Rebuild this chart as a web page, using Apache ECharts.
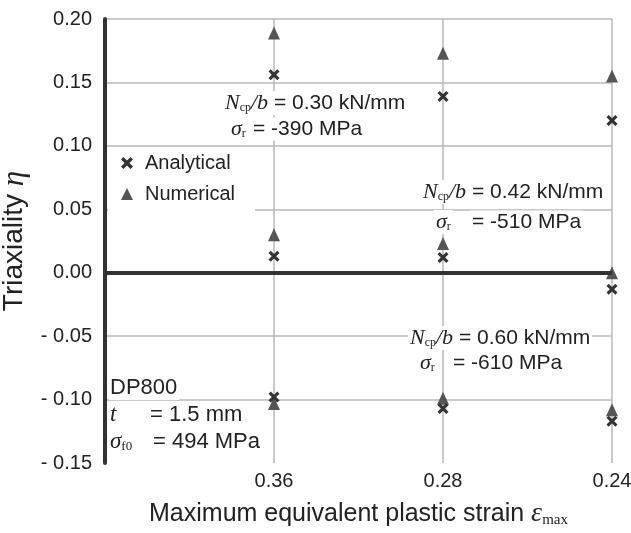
<!DOCTYPE html>
<html>
<head>
<meta charset="utf-8">
<script src="https://cdn.jsdelivr.net/npm/echarts@6/dist/echarts.min.js"></script>
<style>html,body{margin:0;padding:0;background:#fff}#c{width:631px;height:533px}</style>
</head>
<body>
<div id="c"></div>
<script>
// categories (x axis, first slot is the empty axis origin)
const categories = ['', '0.36', '0.28', '0.24'];
const strainCats = ['0.36', '0.28', '0.24'];
// Ncp/b = 0.30 kN/mm
const numerical030 = [0.189, 0.173, 0.155];
const analytical030 = [0.156, 0.139, 0.120];
// Ncp/b = 0.42 kN/mm
const numerical042 = [0.030, 0.023, 0.000];
const analytical042 = [0.013, 0.012, -0.013];
// Ncp/b = 0.60 kN/mm
const numerical060 = [-0.103, -0.099, -0.108];
const analytical060 = [-0.098, -0.107, -0.117];
// y tick values
const yTicks = [-0.15, -0.10, -0.05, 0.00, 0.05, 0.10, 0.15, 0.20];

function pairs(arrs) {
  const out = [];
  arrs.forEach(a => a.forEach((v, i) => out.push([strainCats[i], v])));
  return out;
}
const analyticalData = pairs([analytical030, analytical042, analytical060]);
const numericalData = pairs([numerical030, numerical042, numerical060]);

const XPATH = 'path://M2,0 L5,3 L8,0 L10,2 L7,5 L10,8 L8,10 L5,7 L2,10 L0,8 L3,5 L0,2 Z';
const SANS = 'Liberation Sans, Arial, sans-serif';
const SERIF = 'Liberation Serif, Times New Roman, serif';

const chart = echarts.init(document.getElementById('c'), null, {renderer: 'canvas'});

const richA = {
  it: {fontFamily: SERIF, fontStyle: 'italic', fontSize: 22, fill: '#222', color: '#222'},
  sub: {fontFamily: SERIF, fontSize: 12, verticalAlign: 'bottom', fill: '#222', color: '#222', padding: [8, 0, 0, 0]},
  n: {fontFamily: SANS, fontSize: 21, fill: '#222', color: '#222'}
};
function txt(text, x, y, size, rich, pad) {
  return {
    type: 'text', z: 1, x: x, y: y,
    style: {
      text: text, rich: rich || richA, font: size + 'px ' + SANS, fill: '#222',
      verticalAlign: 'middle', align: 'left',
      backgroundColor: '#fff', padding: pad || [1, 2, 1, 2]
    }
  };
}
const richB = Object.assign({}, richA, {
  it: Object.assign({}, richA.it, {fontSize: 23}),
  sub: Object.assign({}, richA.sub, {fontSize: 13}),
  n: Object.assign({}, richA.n, {fontSize: 22})
});

chart.setOption({
  animation: false,
  backgroundColor: '#fff',
  grid: {left: 105, right: 19, top: 19, bottom: 70, containLabel: false, outerBoundsMode: 'none'},
  xAxis: {
    type: 'category', data: categories, boundaryGap: false,
    axisLine: {show: false}, axisTick: {show: false},
    axisLabel: {fontFamily: SANS, fontSize: 20, color: '#222', margin: 8},
    splitLine: {show: true, lineStyle: {color: '#b8b8b8', width: 1.5}},
    name: 'Maximum equivalent plastic strain {it|ε}{sub|max}',
    nameLocation: 'middle', nameGap: 37,
    nameTextStyle: {
      fontFamily: SANS, fontSize: 25, color: '#222',
      rich: {
        n: {fontFamily: SANS, fontSize: 25, color: '#222'},
        it: {fontFamily: SERIF, fontStyle: 'italic', fontSize: 28, color: '#222'},
        sub: {fontFamily: SERIF, fontSize: 15, color: '#222', verticalAlign: 'bottom', padding: [8, 0, 0, 0]}
      }
    }
  },
  yAxis: {
    type: 'value', min: -0.15, max: 0.20, interval: 0.05,
    axisLine: {show: true, lineStyle: {color: '#333', width: 4}},
    axisTick: {show: false},
    axisLabel: {
      fontFamily: SANS, fontSize: 20, color: '#222', margin: 13,
      formatter: function (v) {
        const t = yTicks.reduce((a, b) => Math.abs(b - v) < Math.abs(a - v) ? b : a);
        return t < 0 ? '- ' + Math.abs(t).toFixed(2) : t.toFixed(2);
      }
    },
    splitLine: {show: true, lineStyle: {color: ['rgba(0,0,0,0)', '#b8b8b8', '#b8b8b8', '#b8b8b8', '#b8b8b8', '#b8b8b8', '#b8b8b8', '#b8b8b8'], width: 1.5}},
    name: 'Triaxiality {it|η}',
    nameLocation: 'middle', nameGap: 55, nameRotate: 90,
    nameTextStyle: {
      fontFamily: SANS, fontSize: 28, color: '#222',
      rich: {
        it: {fontFamily: SERIF, fontStyle: 'italic', fontSize: 31, color: '#222'}
      }
    }
  },
  legend: {
    orient: 'vertical', left: 108, top: 147, padding: [6, 20, 8, 13],
    backgroundColor: '#fff', itemWidth: 12, itemHeight: 12, itemGap: 11,
    textStyle: {fontFamily: SANS, fontSize: 20, color: '#222', padding: [0, 0, 0, 7], lineHeight: 20},
    data: [
      {name: 'Analytical', icon: XPATH, itemStyle: {color: '#333'}},
      {name: 'Numerical', icon: 'triangle', itemStyle: {color: '#555'}}
    ]
  },
  series: [
    {
      name: 'Analytical', type: 'scatter', data: analyticalData, z: 3,
      symbol: XPATH, symbolSize: 11, itemStyle: {color: '#333', opacity: 1},
      markLine: {
        silent: true, symbol: 'none', label: {show: false},
        lineStyle: {color: '#333', width: 4, type: 'solid'},
        data: [{yAxis: 0}]
      }
    },
    {
      name: 'Numerical', type: 'scatter', data: numericalData, z: 2,
      symbol: 'triangle', symbolSize: [12, 13], itemStyle: {color: '#555', opacity: 1}
    }
  ],
  graphic: [
    txt('{it|N}{sub|cp}{it|/b}{n| = 0.30 kN/mm}', 223, 103, 21),
    txt('{it|σ}{sub|r}', 229, 129, 21),
    txt('= -390 MPa', 251, 129, 21),
    txt('{it|N}{sub|cp}{it|/b}{n| = 0.42 kN/mm}', 421, 192, 21),
    txt('{it|σ}{sub|r}', 434, 222, 21),
    txt('= -510 MPa', 470, 222, 21),
    txt('{it|N}{sub|cp}{it|/b}{n| = 0.60 kN/mm}', 408, 338, 21),
    txt('{it|σ}{sub|r}', 418, 363, 21),
    txt('= -610 MPa', 451, 363, 21),
    txt('{n|DP800}', 109, 388, 22, richB, [1, 2, 1, 1]),
    txt('{it|t}', 109, 415, 22, richB, [1, 2, 1, 1]),
    txt('{n|= 1.5 mm}', 148, 415, 22, richB),
    txt('{it|σ}{sub|f0}', 109, 442, 22, richB, [1, 2, 1, 1]),
    txt('{n|= 494 MPa}', 151, 442, 22, richB)
  ]
});
</script>
</body>
</html>
